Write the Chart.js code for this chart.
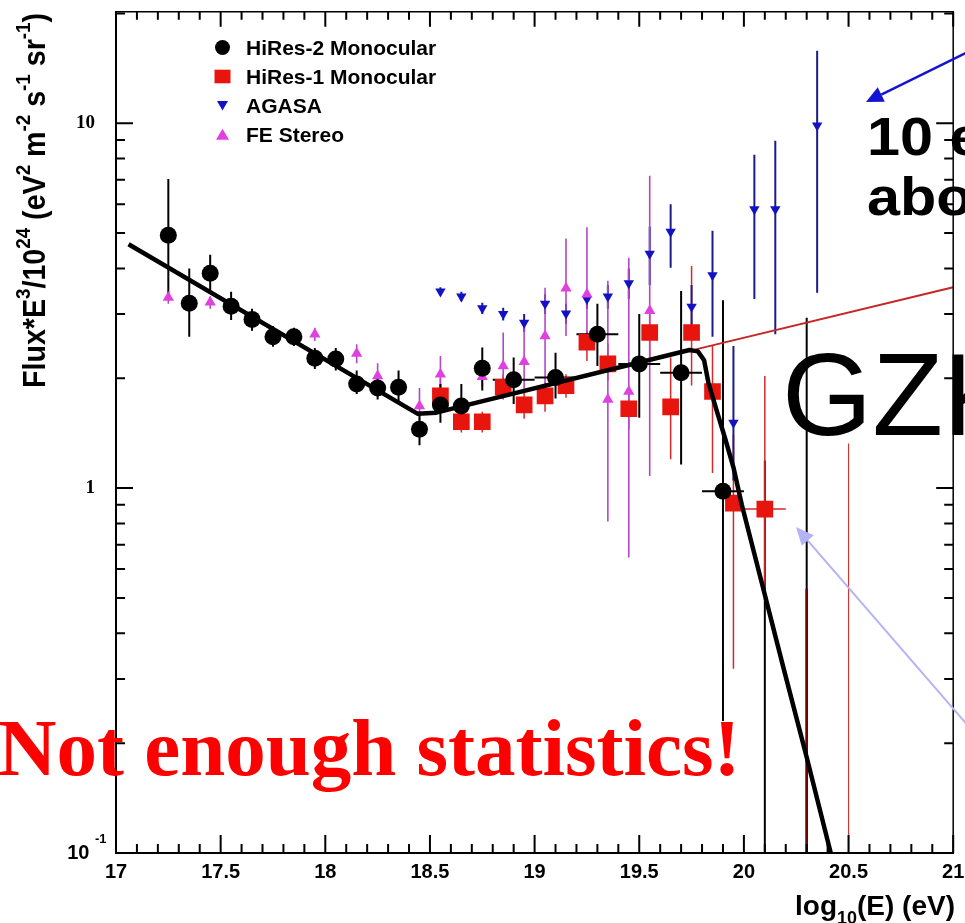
<!DOCTYPE html>
<html>
<head>
<meta charset="utf-8">
<title>Cosmic ray energy spectrum</title>
<script src="https://cdn.jsdelivr.net/npm/chart.js@4.4.1/dist/chart.umd.min.js"></script>
<style>
  html, body { margin: 0; padding: 0; background: #fff; overflow: hidden; }
  canvas { display: block; }
</style>
</head>
<body>
<canvas id="spectrum" width="965" height="923" style="width:965px;height:923px"></canvas>
<script>
// Energies are log10(E/eV); fluxes are Flux*E^3/10^24 in eV^2 m^-2 s^-1 sr^-1.
// Upper/lower arrays hold the ends of each vertical error bar.

// HiRes-2 monocular
const hires2Energy = [17.25, 17.35, 17.45, 17.55, 17.65, 17.75, 17.85, 17.95, 18.05, 18.15, 18.25, 18.35, 18.45, 18.55, 18.65, 18.75, 18.9, 19.1, 19.3, 19.5, 19.7, 19.9];
const hires2Flux   = [4.93, 3.21, 3.88, 3.15, 2.90, 2.60, 2.60, 2.27, 2.26, 1.93, 1.88, 1.89, 1.45, 1.69, 1.68, 2.13, 1.98, 2.01, 2.64, 2.19, 2.07, 0.98];
const hires2Upper  = [7.03, 4.00, 4.36, 3.45, 3.10, 2.78, 2.75, 2.42, 2.42, 2.10, 2.02, 2.10, 1.62, 1.93, 1.93, 2.43, 2.28, 2.35, 3.20, 3.00, 3.47, 3.27];
const hires2Lower  = [3.30, 2.60, 3.46, 2.89, 2.70, 2.44, 2.45, 2.12, 2.10, 1.81, 1.75, 1.72, 1.31, 1.51, 1.47, 1.85, 1.70, 1.76, 2.16, 1.56, 1.16, 0.23];
const hires2BinHalfWidth = [0, 0, 0, 0, 0, 0, 0, 0, 0, 0, 0, 0, 0, 0, 0, 0, 0.1, 0.1, 0.1, 0.1, 0.1, 0.1];
const hires2LimitEnergy = [20.1, 20.3];
const hires2LimitUpper  = [1.19, 2.93];

// HiRes-1 monocular
const hires1Energy = [18.55, 18.65, 18.75, 18.85, 18.95, 19.05, 19.15, 19.25, 19.35, 19.45, 19.55, 19.65, 19.75, 19.85, 19.95, 20.1];
const hires1Flux   = [1.79, 1.52, 1.52, 1.89, 1.69, 1.79, 1.91, 2.51, 2.19, 1.65, 2.67, 1.67, 2.67, 1.84, 0.91, 0.876];
const hires1Upper  = [2.00, 1.65, 1.62, 2.05, 1.85, 1.95, 2.05, 2.70, 2.49, 1.85, 3.00, 2.28, 4.06, 2.45, 1.40, 2.03];
const hires1Lower  = [1.62, 1.42, 1.42, 1.75, 1.55, 1.62, 1.77, 2.23, 1.97, 1.45, 2.19, 1.20, 1.91, 1.10, 0.32, 0.50];
const hires1BinHalfWidth = [0, 0, 0, 0, 0, 0, 0, 0, 0, 0, 0, 0, 0, 0, 0, 0.1];
const hires1LimitEnergy = [20.3, 20.5];
const hires1LimitUpper  = [0.53, 1.325];

// AGASA
const agasaEnergy = [18.55, 18.65, 18.75, 18.85, 18.95, 19.05, 19.15, 19.25, 19.35, 19.45, 19.55, 19.65, 19.75, 19.85, 19.95, 20.05, 20.15, 20.35];
const agasaFlux   = [3.46, 3.35, 3.11, 3.00, 2.84, 3.20, 3.01, 3.30, 3.35, 3.64, 4.39, 5.04, 3.14, 3.83, 1.51, 5.81, 5.81, 9.85];
const agasaUpper  = [3.55, 3.45, 3.22, 3.12, 3.00, 3.40, 3.20, 3.50, 3.60, 4.00, 5.20, 6.00, 3.60, 5.07, 2.45, 8.20, 8.95, 15.8];
const agasaLower  = [3.37, 3.25, 3.00, 2.88, 2.68, 3.00, 2.82, 3.10, 3.10, 3.30, 3.60, 4.02, 2.70, 2.60, 1.05, 3.30, 2.64, 3.43];

// Fly's Eye stereo
const feEnergy = [17.25, 17.45, 17.95, 18.15, 18.25, 18.45, 18.55, 18.75, 18.85, 18.95, 19.05, 19.15, 19.25, 19.35, 19.45, 19.55];
const feFlux   = [3.33, 3.23, 2.64, 2.34, 2.03, 1.68, 2.05, 2.02, 2.16, 2.22, 2.61, 3.53, 3.40, 1.75, 1.84, 3.06];
const feUpper  = [3.45, 3.35, 2.75, 2.48, 2.20, 1.88, 2.30, 2.25, 2.67, 2.78, 3.54, 4.83, 5.19, 3.70, 4.28, 7.18];
const feLower  = [3.20, 3.10, 2.53, 2.20, 1.90, 1.50, 1.85, 1.90, 1.85, 1.85, 1.89, 2.61, 2.38, 0.81, 0.645, 1.08];

// Broken power-law fit with GZK cutoff
const fitEnergy = [17.06, 18.44, 18.53, 19.74, 19.78, 19.81, 19.83, 19.87, 19.91, 19.95, 19.99, 20.10, 20.19, 20.30, 20.415, 20.46];
const fitFlux   = [4.66, 1.60, 1.61, 2.39, 2.37, 2.24, 1.95, 1.63, 1.37, 1.14, 0.90, 0.51, 0.32, 0.183, 0.100, 0.085];

// Extension of the power law without a cutoff
const noCutoffEnergy = [19.77, 21.0];
const noCutoffFlux   = [2.40, 3.55];

// Axis ticks
const xMajorTicks = [17, 17.5, 18, 18.5, 19, 19.5, 20, 20.5, 21];
const xMinorTicks = [17.1, 17.2, 17.3, 17.4, 17.6, 17.7, 17.8, 17.9, 18.1, 18.2, 18.3, 18.4, 18.6, 18.7, 18.8, 18.9,
                     19.1, 19.2, 19.3, 19.4, 19.6, 19.7, 19.8, 19.9, 20.1, 20.2, 20.3, 20.4, 20.6, 20.7, 20.8, 20.9];
const yMajorTicks = [0.1, 1, 10];
const yMinorTicks = [0.2, 0.3, 0.4, 0.5, 0.6, 0.7, 0.8, 0.9, 2, 3, 4, 5, 6, 7, 8, 9, 20];

const yTitleParts = [['Flux*E', 0], ['3', 1], ['/10', 0], ['24', 1], [' (eV', 0], ['2', 1], [' m', 0], ['-2', 1],
                     [' s', 0], ['-1', 1], [' sr', 0], ['-1', 1], [')', 0]];

const toPoints = (xs, ys) => xs.map((e, i) => ({ x: e, y: ys[i] }));

const SANS = '"Liberation Sans", Arial, Helvetica, sans-serif';
const SERIF = '"Liberation Serif", "Times New Roman", serif';

const COLORS = {
  hires2: '#000000',
  hires1: '#e8140e',
  agasa: '#1212c4',
  agasaBar: '#1c1c86',
  fe: '#e040e0',
  feBar: '#b447c6',
  hires1Bar: '#d42a2a'
};

const errorSeries = [
  { energy: hires1Energy, flux: hires1Flux, upper: hires1Upper, lower: hires1Lower, half: hires1BinHalfWidth, color: COLORS.hires1Bar, width: 1.5 },
  { energy: agasaEnergy, flux: agasaFlux, upper: agasaUpper, lower: agasaLower, half: null, color: COLORS.agasaBar, width: 2 },
  { energy: feEnergy, flux: feFlux, upper: feUpper, lower: feLower, half: null, color: COLORS.feBar, width: 1.6 },
  { energy: hires2Energy, flux: hires2Flux, upper: hires2Upper, lower: hires2Lower, half: hires2BinHalfWidth, color: '#000', width: 2 }
];

const limitBars = [
  { energy: hires2LimitEnergy, upper: hires2LimitUpper, colors: ['#000', '#000'], widths: [2, 2] },
  { energy: hires1LimitEnergy, upper: hires1LimitUpper, colors: ['#6a0000', '#c83a3a'], widths: [2.5, 1.2] }
];

const errorBarPlugin = {
  id: 'errorBars',
  beforeDatasetsDraw(chart) {
    const { ctx, chartArea: a, scales: { x, y } } = chart;
    ctx.save();
    ctx.beginPath();
    ctx.rect(a.left, a.top, a.right - a.left, a.bottom - a.top);
    ctx.clip();
    ctx.lineCap = 'butt';
    for (const lim of limitBars) {
      lim.energy.forEach((e, i) => {
        const px = x.getPixelForValue(e);
        ctx.strokeStyle = lim.colors[i];
        ctx.lineWidth = lim.widths[i];
        ctx.beginPath();
        ctx.moveTo(px, y.getPixelForValue(lim.upper[i]));
        ctx.lineTo(px, a.bottom + 4);
        ctx.stroke();
      });
    }
    for (const s of errorSeries) {
      ctx.strokeStyle = s.color;
      ctx.lineWidth = s.width;
      s.energy.forEach((e, i) => {
        const px = x.getPixelForValue(e);
        ctx.beginPath();
        ctx.moveTo(px, y.getPixelForValue(s.upper[i]));
        ctx.lineTo(px, y.getPixelForValue(s.lower[i]));
        if (s.half && s.half[i]) {
          const py = y.getPixelForValue(s.flux[i]);
          ctx.moveTo(x.getPixelForValue(e - s.half[i]), py);
          ctx.lineTo(x.getPixelForValue(e + s.half[i]), py);
        }
        ctx.stroke();
      });
    }
    ctx.restore();
  }
};

function drawArrow(ctx, x1, y1, x2, y2, color, width, headLen, headHalf) {
  const ang = Math.atan2(y2 - y1, x2 - x1);
  const bx = x2 - Math.cos(ang) * headLen;
  const by = y2 - Math.sin(ang) * headLen;
  ctx.save();
  ctx.strokeStyle = color;
  ctx.fillStyle = color;
  ctx.lineWidth = width;
  ctx.beginPath();
  ctx.moveTo(x1, y1);
  ctx.lineTo(bx, by);
  ctx.stroke();
  ctx.beginPath();
  ctx.moveTo(x2, y2);
  ctx.lineTo(bx + Math.sin(ang) * headHalf, by - Math.cos(ang) * headHalf);
  ctx.lineTo(bx - Math.sin(ang) * headHalf, by + Math.cos(ang) * headHalf);
  ctx.closePath();
  ctx.fill();
  ctx.restore();
}

function drawMarker(ctx, style, cx, cy, size, color) {
  ctx.fillStyle = color;
  ctx.beginPath();
  if (style === 'circle') {
    ctx.arc(cx, cy, size, 0, Math.PI * 2);
  } else if (style === 'rect') {
    ctx.rect(cx - size, cy - size * 0.85, size * 2, size * 1.7);
  } else if (style === 'down') {
    ctx.moveTo(cx - size, cy - size * 0.8);
    ctx.lineTo(cx + size, cy - size * 0.8);
    ctx.lineTo(cx, cy + size * 0.9);
    ctx.closePath();
  } else {
    ctx.moveTo(cx - size, cy + size * 0.8);
    ctx.lineTo(cx + size, cy + size * 0.8);
    ctx.lineTo(cx, cy - size * 0.9);
    ctx.closePath();
  }
  ctx.fill();
}

const decorPlugin = {
  id: 'decor',
  afterDatasetsDraw(chart) {
    const { ctx, chartArea: a, scales: { x, y } } = chart;
    ctx.save();
    // top and right frame
    ctx.strokeStyle = '#000';
    ctx.lineWidth = 1.5;
    ctx.beginPath();
    ctx.moveTo(a.left, a.top);
    ctx.lineTo(a.right, a.top);
    ctx.lineTo(a.right, a.bottom);
    ctx.stroke();
    // inward tick marks on all four sides
    ctx.lineWidth = 2;
    ctx.beginPath();
    const seg = (x1, y1, x2, y2) => { ctx.moveTo(x1, y1); ctx.lineTo(x2, y2); };
    xMajorTicks.forEach(v => { const p = x.getPixelForValue(v); seg(p, a.bottom, p, a.bottom - 18); seg(p, a.top, p, a.top + 15); });
    xMinorTicks.forEach(v => { const p = x.getPixelForValue(v); seg(p, a.bottom, p, a.bottom - 9); seg(p, a.top, p, a.top + 8); });
    yMajorTicks.forEach(v => { const p = y.getPixelForValue(v); seg(a.left, p, a.left + 17, p); seg(a.right, p, a.right - 17, p); });
    yMinorTicks.forEach(v => { const p = y.getPixelForValue(v); seg(a.left, p, a.left + 9, p); seg(a.right, p, a.right - 9, p); });
    ctx.stroke();
    ctx.restore();
  },
  afterDraw(chart) {
    const { ctx, chartArea: a, scales: { x, y } } = chart;
    ctx.save();
    ctx.fillStyle = '#000';
    ctx.textBaseline = 'alphabetic';

    // exponent of the lowest y label
    ctx.font = 'bold 13px ' + SANS;
    ctx.textAlign = 'left';
    ctx.fillText('-1', 95, y.getPixelForValue(0.1) - 10);

    // x axis title with subscript
    ctx.font = 'bold 28px ' + SANS;
    let tx = 795;
    ctx.fillText('log', tx, 915);
    tx += ctx.measureText('log').width;
    ctx.font = 'bold 18px ' + SANS;
    ctx.fillText('10', tx, 924);
    tx += ctx.measureText('10').width;
    ctx.font = 'bold 28px ' + SANS;
    ctx.fillText('(E) (eV)', tx, 915);

    // y axis title, rotated, with superscripts
    const base = 32, sup = 21;
    let total = 0;
    yTitleParts.forEach(([t, s]) => { ctx.font = 'bold ' + (s ? sup : base) + 'px ' + SANS; total += ctx.measureText(t).width; });
    ctx.save();
    ctx.translate(45, 388);
    ctx.rotate(-Math.PI / 2);
    ctx.scale(375 / total, 1);
    let ty = 0;
    yTitleParts.forEach(([t, s]) => {
      ctx.font = 'bold ' + (s ? sup : base) + 'px ' + SANS;
      ctx.fillText(t, ty, s ? -15 : 0);
      ty += ctx.measureText(t).width;
    });
    ctx.restore();

    // legend
    const legendRows = [
      { ds: 0, style: 'circle', size: 7.5 },
      { ds: 5, style: 'rect', size: 8 },
      { ds: 4, style: 'down', size: 5.5 },
      { ds: 3, style: 'up', size: 6.5 }
    ];
    const rowY = [47.5, 76.5, 105.5, 134.5];
    legendRows.forEach((r, i) => {
      const d = chart.data.datasets[r.ds];
      drawMarker(ctx, r.style, 222.5, rowY[i], r.size, d.backgroundColor);
      ctx.fillStyle = '#000';
      ctx.font = 'bold 21px ' + SANS;
      ctx.textAlign = 'left';
      ctx.fillText(d.label, 246, rowY[i] + 7.5);
    });

    // annotations
    drawArrow(ctx, 970, 51, 866, 102, '#1414d2', 2.5, 17, 8);
    ctx.save();
    ctx.fillStyle = '#000';
    ctx.font = 'bold 54px ' + SANS;
    ctx.translate(867, 0);
    ctx.scale(1.1, 1);
    ctx.fillText('10 events', 0, 155);
    ctx.fillText('above 10\u00b2\u2070 eV', 0, 215);
    ctx.restore();

    ctx.fillStyle = '#000';
    ctx.font = '116px ' + SANS;
    ctx.fillText('GZK', 782, 435);

    drawArrow(ctx, 970, 728, 796, 527, '#b4b4f4', 2, 18, 8);

    ctx.fillStyle = '#ff0000';
    ctx.font = 'bold 81px ' + SERIF;
    ctx.fillText('Not enough statistics!', -2, 775);
    ctx.restore();
  }
};

new Chart(document.getElementById('spectrum'), {
  type: 'scatter',
  data: {
    datasets: [
      {
        label: 'HiRes-2 Monocular',
        data: toPoints(hires2Energy, hires2Flux),
        pointStyle: 'circle', pointRadius: 8.5,
        backgroundColor: COLORS.hires2, borderColor: COLORS.hires2, pointBorderWidth: 0
      },
      {
        type: 'line', label: 'fit',
        data: toPoints(fitEnergy, fitFlux),
        borderColor: '#000', borderWidth: 4.5, pointRadius: 0, tension: 0, fill: false, clip: 0,
        borderJoinStyle: 'round'
      },
      {
        type: 'line', label: 'no cutoff',
        data: toPoints(noCutoffEnergy, noCutoffFlux),
        borderColor: '#c62626', borderWidth: 2, pointRadius: 0, tension: 0, fill: false, clip: 0
      },
      {
        label: 'FE Stereo',
        data: toPoints(feEnergy, feFlux),
        pointStyle: 'triangle', pointRadius: 6.5,
        backgroundColor: COLORS.fe, borderColor: COLORS.fe, pointBorderWidth: 0
      },
      {
        label: 'AGASA',
        data: toPoints(agasaEnergy, agasaFlux),
        pointStyle: 'triangle', rotation: 180, pointRadius: 6,
        backgroundColor: COLORS.agasa, borderColor: COLORS.agasa, pointBorderWidth: 0
      },
      {
        label: 'HiRes-1 Monocular',
        data: toPoints(hires1Energy, hires1Flux),
        pointStyle: 'rect', pointRadius: 11.8,
        backgroundColor: COLORS.hires1, borderColor: COLORS.hires1, pointBorderWidth: 0
      }
    ]
  },
  options: {
    responsive: false,
    animation: false,
    devicePixelRatio: 1,
    layout: { padding: { top: 11, right: 5, left: 0, bottom: 0 } },
    plugins: { legend: { display: false }, tooltip: { enabled: false } },
    scales: {
      x: {
        type: 'linear', min: 17, max: 21,
        afterBuildTicks: s => { s.ticks = xMajorTicks.map(v => ({ value: v })); },
        ticks: {
          callback: v => String(v),
          font: { family: SANS, weight: 'bold', size: 20 },
          color: '#000', padding: 7, maxRotation: 0, autoSkip: false
        },
        grid: { display: false, drawTicks: false },
        border: { display: true, color: '#000', width: 2 },
        afterFit: s => { s.height = 70; s.paddingLeft = 0; s.paddingRight = 0; }
      },
      y: {
        type: 'logarithmic', min: 0.1, max: 20.2,
        afterBuildTicks: s => { s.ticks = yMajorTicks.map(v => ({ value: v })); },
        ticks: {
          callback: v => (v === 1 ? '1' : (v < 0.5 ? '10 ' : '10')),
          font: c => (c.tick && c.tick.value < 0.5)
            ? { family: SANS, weight: 'bold', size: 20 }
            : { family: SERIF, weight: 'bold', size: 19 },
          color: '#000', padding: 21, autoSkip: false
        },
        grid: { display: false, drawTicks: false },
        border: { display: true, color: '#000', width: 2 },
        afterFit: s => { s.width = 116; s.paddingTop = 0; s.paddingBottom = 0; }
      }
    }
  },
  plugins: [errorBarPlugin, decorPlugin]
});
</script>
</body>
</html>
